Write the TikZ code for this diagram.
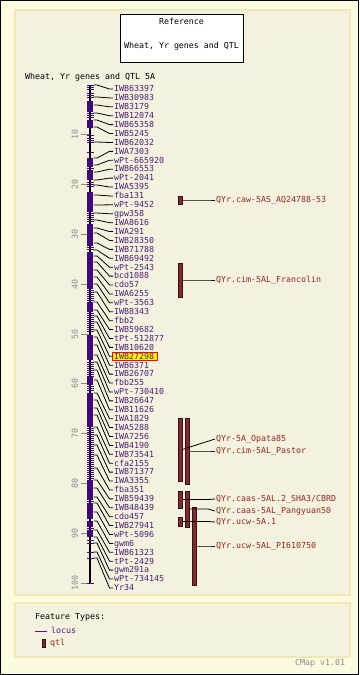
\documentclass[tikz,border=0pt]{standalone}
\usepackage{fontspec}
\newfontfamily\pix{DejaVu Sans Mono}
\definecolor{outerbg}{HTML}{FDFBDF}
\definecolor{innerbg}{HTML}{F4F2DE}
\definecolor{panelborder}{HTML}{EEEAB4}
\definecolor{mkcol}{HTML}{4A1E78}
\definecolor{chromcol}{HTML}{3D0A78}
\definecolor{qtlcol}{HTML}{7E2C2C}
\definecolor{qtltext}{HTML}{8B2828}
\definecolor{scalegrey}{HTML}{8A8A8A}
\tikzset{
 pixtext/.style={font=\pix\fontsize{8.3}{9}\selectfont, inner sep=0pt, text height=5.6pt, text depth=0pt},
 mklabel/.style={pixtext, text=mkcol, anchor=west},
 conn/.style={draw=black, line width=0.8pt},
 qtlbar/.style={fill=qtlcol, draw=black!60!qtlcol, line width=0.5pt, minimum width=4pt, inner sep=0pt},
 qlabel/.style={pixtext, text=qtltext, anchor=west},
 panel/.style={fill=innerbg, draw=panelborder, line width=1.5pt},
 chromtick/.style={draw=chromcol, line width=0.9pt},
 scaletick/.style={draw=scalegrey, line width=0.8pt},
 scalenum/.style={pixtext, text=scalegrey, rotate=90},
}
\begin{document}
\begin{tikzpicture}[x=1pt,y=-1pt]
\useasboundingbox (0,0) rectangle (359,675);
% backgrounds
\fill[outerbg] (0,0) rectangle (359,675);
\draw[black, line width=1pt] (0.5,0.5) rectangle (358.5,674.5);
\draw[panel] (15,10) rectangle (350,595);
\draw[panel] (15,603) rectangle (350,657);
% title box
\node[draw=black, fill=white, line width=0.8pt, minimum width=123pt, minimum height=48pt, inner sep=0pt] (title) at (181.5,38) {};
\node[pixtext, text=black] (t1) at (181.5,22) {Reference};
\node[pixtext, text=black] (t2) at (181.5,46) {Wheat, Yr genes and QTL};
\node[pixtext, text=black, anchor=west] (maptitle) at (25,77) {Wheat, Yr genes and QTL 5A};
% scale
\foreach \v in {10,20,...,100} {
  \pgfmathsetmacro\yy{85+4.98*\v}
  \draw[scaletick] (81,\yy) -- (89,\yy);
  \node[scalenum] at (75,\yy) {\v};
}
% chromosome
\draw[black, line width=1.2pt] (90,85) -- (90,583);
\foreach \a/\b in {101/112,120/128,158/167,170/180,192/212,224/246,252/289,302/312,335/360,377/385,393/427,480/500,503/519,521/527,530/537}
  \fill[chromcol] (87,\a) rectangle (93,\b);
\foreach \t in {85,87,89,93,95,97,113,115,117,135,138,140,142,152,168,182,184,186,213,215,217,219,221,247,249,290,292,294,296,298,300,313,315,317,319,321,323,325,327,329,331,362,364,366,368,370,372,374,376,386,388,390,428,430,432,434,436,438,440,442,444,446,448,450,452,454,456,458,460,462,464,466,468,470,472,474,476,478,501,528,540,543,552,558,583}
  \draw[chromtick] (86.5,\t) -- (93.5,\t);
% highlight
\draw[fill=yellow, draw=red, line width=0.8pt] (112,352.2) rectangle (157,360.4);
% markers
\foreach \nm/\ym [count=\i] in {IWB63397/85,IWB30983/97,IWB3179/105,IWB12074/113,IWB65358/120,IWB5245/127,IWB62032/142,IWA7303/158,wPt-665920/165,IWB66553/172,wPt-2041/180,IWA5395/185,fba131/195,wPt-9452/205,gpw358/213,IWA8616/220,IWA291/228,IWB28350/233,IWB71788/243,IWB69492/250,wPt-2543/256,bcd1088/262,cdo57/270,IWA6255/277,wPt-3563/284,IWB8343/292,fbb2/302,IWB59682/310,tPt-512877/316,IWB10620/322,IWB27298/330,IWB6371/337,IWB26707/345,fbb255/355,wPt-730410/362,IWB26647/370,IWB11626/380,IWA1829/393,IWA5288/400,IWA7256/408,IWB4190/415,IWB73541/427,cfa2155/435,IWB71377/445,IWA3355/455,fba351/468,IWB59439/480,IWB48439/488,cdo457/497,IWB27941/503,wPt-5096/512,gwm6/521,IWB61323/530,tPt-2429/537,gwm291a/543,wPt-734145/552,Yr34/558} {
  \pgfmathsetmacro\yl{89+(\i-1)*8.91}
  \coordinate (c\i) at (93.5,\ym);
  \node[mklabel] (m\i) at (114,\yl) {\nm};
  \draw[conn] (c\i) -- ++(3.5,0) -- ([xshift=-4.5pt]m\i.west) -- ([xshift=-1pt]m\i.west);
}
% QTLs
\node[qtlbar, minimum height=8pt] (qb1) at (180,200) {};
\node[qtlbar, minimum height=34pt] (qb2) at (180,280) {};
\node[qtlbar, minimum height=63pt] (qb3) at (180,449.5) {};
\node[qtlbar, minimum height=66pt] (qb4) at (187,451) {};
\node[qtlbar, minimum height=17pt] (qb5) at (180,499.5) {};
\node[qtlbar, minimum height=36pt] (qb6) at (187,509) {};
\node[qtlbar, minimum height=9pt] (qb7) at (180,521.5) {};
\node[qtlbar, minimum height=78pt] (qb8) at (194,546) {};
\node[qlabel] (q1) at (216,200) {QYr.caw-5AS\_AQ24788-53};
\node[qlabel] (q2) at (216,280) {QYr.cim-5AL\_Francolin};
\node[qlabel] (q3) at (216,439) {QYr-5A\_Opata85};
\node[qlabel] (q4) at (216,451) {QYr.cim-5AL\_Pastor};
\node[qlabel] (q5) at (216,499) {QYr.caas-5AL.2\_SHA3/CBRD};
\node[qlabel] (q6) at (216,511) {QYr.caas-5AL\_Pangyuan50};
\node[qlabel] (q7) at (216,522) {QYr.ucw-5A.1};
\node[qlabel] (q8) at (216,546) {QYr.ucw-5AL\_PI610750};
\foreach \k in {1,2,4,5,6,7,8}
  \draw[conn] (qb\k.east) -- ([xshift=-8pt]q\k.west |- qb\k.east) -- ([xshift=-1pt]q\k.west);
\draw[conn] (qb3.east) -- ([xshift=-1pt]q3.west);
% legend
\node[pixtext, text=black, anchor=west] (ft) at (35,617) {Feature Types:};
\coordinate (lgA) at (35,631);
\coordinate (lgB) at (47,631);
\draw[draw=mkcol, line width=1pt] (lgA) -- (lgB);
\node[mklabel] (lgloc) at (51,631) {locus};
\node[qtlbar, minimum height=8pt, minimum width=3pt] (lgq) at (44,643) {};
\node[qlabel] (lgqtl) at (50,643) {qtl};
\node[pixtext, text=scalegrey, anchor=west] (cmap) at (295,663) {CMap v1.01};
\end{tikzpicture}
\end{document}
